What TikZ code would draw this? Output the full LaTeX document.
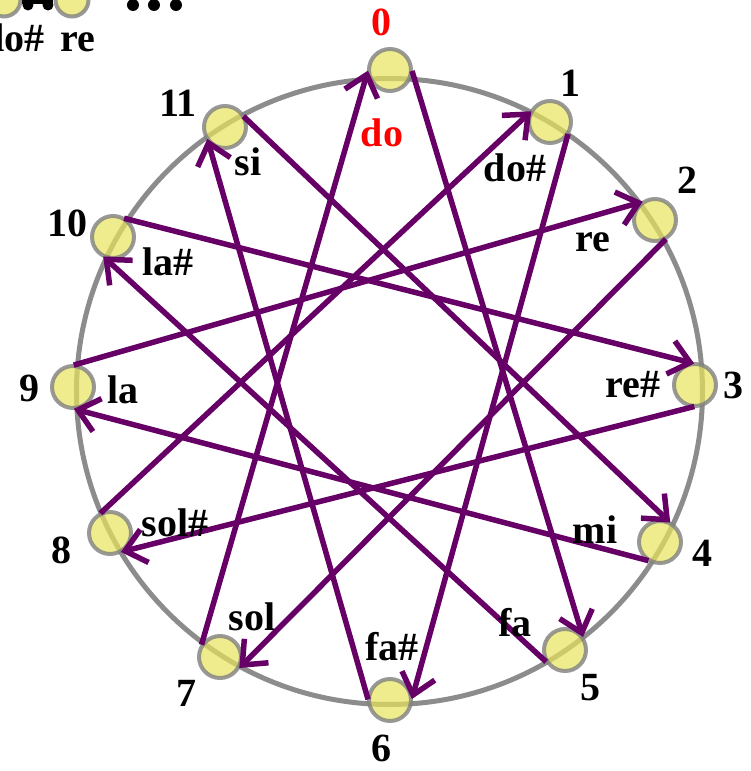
\documentclass[tikz,border=0pt]{standalone}
\usepackage{fontspec}
\setmainfont{Liberation Serif}
\usepackage{xcolor}
\usetikzlibrary{arrows.meta, calc}
\definecolor{ungunada}{RGB}{102, 0, 102}
\definecolor{kuningnada}{RGB}{232, 228, 92}
\definecolor{abulingkar}{RGB}{140, 140, 140}

\begin{document}
\begin{tikzpicture}[
    x=1pt, y=1pt,
    font=\fontsize{40}{44}\selectfont\bfseries,
    nada/.style={circle, draw=gray, draw opacity=0.8, line width=4pt, fill=kuningnada,
                 fill opacity=0.7, minimum size=42pt, inner sep=0pt},
    teks/.style={inner sep=0pt},
    panah/.style={-{Straight Barb[length=20pt, width=34pt]}, line width=5.5pt, ungunada}
  ]
    \useasboundingbox (-387,-385) rectangle (364,386);
    \coordinate (O) at (0,0);
    \draw[abulingkar, line width=5pt] (2.5,-5.5) circle (313);
    \foreach \k/\px/\py in {0/3/316, 1/163/264, 2/268/166, 3/308/1, 4/273/-156,
        5/178/-264, 6/3/-314, 7/-167/-271, 8/-277/-147, 9/-314/-1, 10/-274/149, 11/-162/259} {
      \node[nada] (n\k) at (\px,\py) {};
    }
    % tiap tali busur mulai 4 derajat sebelum simpul dan berakhir 4 derajat sesudahnya
    \foreach \k in {0,...,11} {
      \pgfmathtruncatemacro{\j}{mod(\k+5,12)}
      \draw[panah] ($(O)!1!-4:(n\k)$) -- ($(O)!1!4:(n\j)$);
    }
    \node[teks, red] (angka0) at (-5,364) {0};
    \foreach \k/\px/\py in {1/183/303, 2/300/206, 3/346/1, 4/315/-167, 5/203/-302,
        6/-5/-362, 7/-200/-307, 8/-325/-164, 9/-357/-2, 10/-319/163, 11/-209/283} {
      \node[teks] (angka\k) at (\px,\py) {\k};
    }
    \node[teks, red] (nama0) at (-5,253) {do};
    \foreach \k/\nm/\px/\py in {1/do\#/128/218, 2/re/206/144, 3/re\#/246/1, 4/mi/208/-144,
        5/fa/128/-237, 6/fa\#/5/-261, 7/sol/-135/-231, 8/sol\#/-212/-137, 9/la/-264/-4,
        10/la\#/-219/124, 11/si/-139/224} {
      \node[teks] (nama\k) at (\px,\py) {\nm};
    }
    % potongan gambar lain di pojok kiri atas
    \node[nada, minimum size=33pt] (kecilA) at (-383,386) {};
    \node[nada, minimum size=33pt] (kecilB) at (-315,386) {};
    \draw[line width=8pt] (kecilA) -- (kecilB);
    \fill (-359,381) circle (5.5) (-339,381) circle (5.5);
    \foreach \x in {-254,-233,-211} {
      \fill (\x,381) circle (6);
    }
    \node[teks, anchor=base east] (potA) at (-342,334) {do\#};
    \node[teks, anchor=base] (potB) at (-309,334) {re};
\end{tikzpicture}
\end{document}
